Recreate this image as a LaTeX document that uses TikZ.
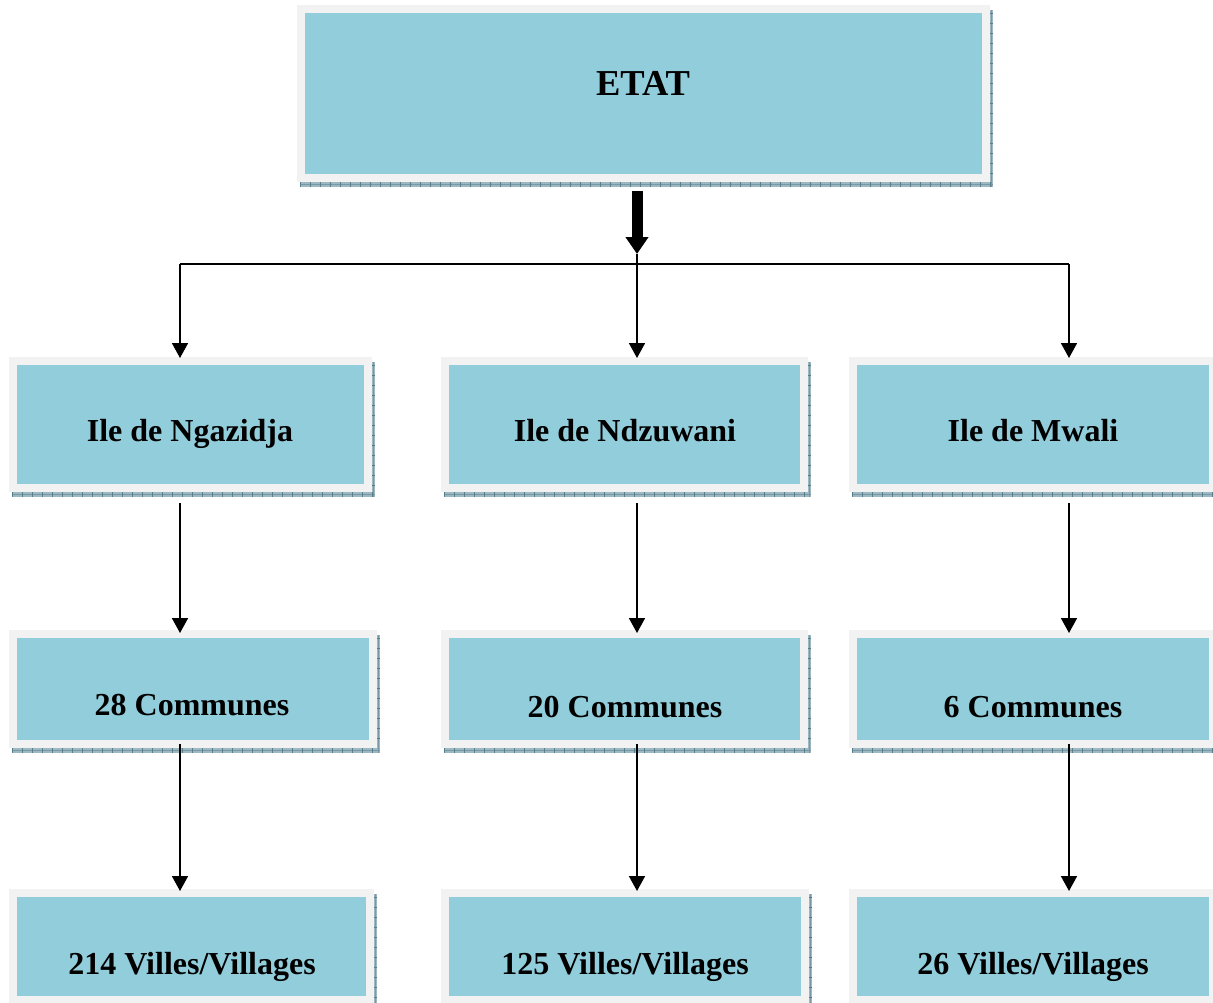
\documentclass[tikz,border=0pt]{standalone}
\usepackage{fontspec}
\setmainfont{Liberation Serif}
\usetikzlibrary{arrows.meta,calc}
\definecolor{inblue}{HTML}{92CDDC}
\definecolor{outgray}{HTML}{F2F2F2}
\definecolor{shcol}{HTML}{9DB8C1}
\definecolor{shdark}{HTML}{557F8D}
% #1 name, #2 x1, #3 y1, #4 x2, #5 y2 (outer frame)
\newcommand\layerbox[5]{%
  \fill[shcol] (#2+3,#5) rectangle (#4+3,#5+5);
  \fill[shcol] (#4,#3+5) rectangle (#4+3,#5+5);
  \draw[shdark!80, line width=0.5pt] (#2+3,#5+2.5) -- (#4+3,#5+2.5);
  \draw[shdark!80, line width=0.5pt] (#4+1.5,#3+5) -- (#4+1.5,#5+5);
  \draw[shdark, line width=5pt, dash pattern=on 0.8pt off 9.2pt] (#2+3,#5+2.5) -- (#4+3,#5+2.5);
  \draw[shdark, line width=3pt, dash pattern=on 0.8pt off 9.2pt] (#4+1.5,#3+8) -- (#4+1.5,#5);
  \fill[outgray] (#2,#3) rectangle (#4,#5);
  \node[inbox, minimum width={#4-#2-16}, minimum height={#5-#3-16}] (#1) at ({(#2+#4)/2},{(#3+#5)/2}) {};
}
\begin{document}
\begin{tikzpicture}[x=1pt,y=-1pt,
  inbox/.style={draw=none, fill=inblue, inner sep=0pt, outer sep=0pt},
  lbl/.style={anchor=base, font=\bfseries\fontsize{32}{36}\selectfont, inner sep=0pt},
  arr/.style={line width=1.8pt, -{Triangle[width=16pt,length=15pt]}},
  bus/.style={line width=1.8pt},
]
\useasboundingbox (0,0) rectangle (1213,1002);

\layerbox{etat}{297}{5}{990}{182}
\layerbox{ngi}{9}{357}{372}{492}
\layerbox{ndi}{441}{357}{808}{492}
\layerbox{mwi}{849}{357}{1217}{492}
\layerbox{ngc}{9}{630}{377}{748}
\layerbox{ndc}{441}{630}{808}{748}
\layerbox{mwc}{849}{630}{1217}{748}
\layerbox{ngv}{9}{889}{374}{1004}
\layerbox{ndv}{441}{889}{809}{1004}
\layerbox{mwv}{849}{889}{1217}{1004}

\node[lbl, font=\bfseries\fontsize{36.5}{40}\selectfont] (tetat) at (643,95) {ETAT};
\node[lbl] (tngi) at (190,441) {Ile de Ngazidja};
\node[lbl] (tndi) at (625,441) {Ile de Ndzuwani};
\node[lbl] (tmwi) at (1033,441) {Ile de Mwali};
\node[lbl] (tngc) at (192,715) {28 Communes};
\node[lbl] (tndc) at (625,717) {20 Communes};
\node[lbl] (tmwc) at (1033,717) {6 Communes};
\node[lbl] (tngv) at (192,974) {214 Villes/Villages};
\node[lbl] (tndv) at (625,974) {125 Villes/Villages};
\node[lbl] (tmwv) at (1033,974) {26 Villes/Villages};

% thick arrow from ETAT
\coordinate (tip) at (637,254);
\draw[line width=11pt, -{Triangle[width=22pt,length=17pt]}] (etat.south -| tip) ++(0,17) -- (tip);

% bus
\coordinate (b1) at (180,264);
\coordinate (b2) at (637,264);
\coordinate (b3) at (1069,264);
\draw[bus] (b1) -- (b3);
\draw[bus] (tip) -- (b2);
\draw[arr] (b1) -- ($(b1 |- ngi.north)+(0,-7)$);
\draw[arr] (b2) -- ($(b2 |- ndi.north)+(0,-7)$);
\draw[arr] (b3) -- ($(b3 |- mwi.north)+(0,-7)$);

% islands to communes
\draw[arr] ($(b1 |- ngi.south)+(0,19)$) -- ($(b1 |- ngc.north)+(0,-5)$);
\draw[arr] ($(b2 |- ndi.south)+(0,19)$) -- ($(b2 |- ndc.north)+(0,-5)$);
\draw[arr] ($(b3 |- mwi.south)+(0,19)$) -- ($(b3 |- mwc.north)+(0,-5)$);

% communes to villages
\draw[arr] ($(b1 |- ngc.south)+(0,4)$) -- ($(b1 |- ngv.north)+(0,-6)$);
\draw[arr] ($(b2 |- ndc.south)+(0,4)$) -- ($(b2 |- ndv.north)+(0,-6)$);
\draw[arr] ($(b3 |- mwc.south)+(0,4)$) -- ($(b3 |- mwv.north)+(0,-6)$);
\end{tikzpicture}
\end{document}
